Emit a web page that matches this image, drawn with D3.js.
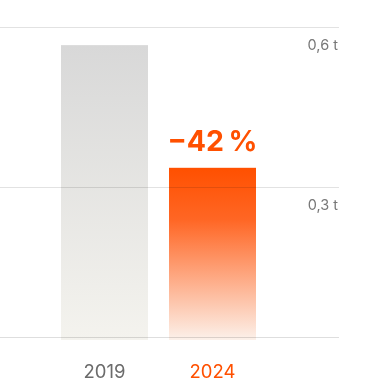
<!DOCTYPE html>
<html>
<head>
<meta charset="utf-8">
<script src="https://cdn.jsdelivr.net/npm/d3@7"></script>
<style>
  body { margin: 0; background: #fff; }
  svg { display: block; font-family: Inter, "Noto Sans", sans-serif; }
</style>
</head>
<body>
<div id="chart"></div>
<script>
const width = 367;
const height = 385;

// data
const years = ["2019", "2024"];
const values = [0.566, 0.336];
const tickValues = [0.3, 0.6];
const tickLabels = ["0,3 t", "0,6 t"];
const changeLabel = "\u221242\u202f%";

const svg = d3.select("#chart")
  .append("svg")
    .attr("width", width)
    .attr("height", height);

let x = d3.scaleBand()
  .domain(years)
  .range([61, 256])
  .paddingInner(21 / 108)
  .paddingOuter(0);

let y = d3.scaleLinear()
  .domain([0, 0.6])
  .range([347, 27]);

const baseY = 337.5;

// gradients
let defs = svg.append("defs");
let gGray = defs.append("linearGradient").attr("id", "gGray")
  .attr("x1", 0).attr("y1", 0).attr("x2", 0).attr("y2", 1);
gGray.append("stop").attr("offset", "0%").attr("stop-color", "#d8d8d8");
gGray.append("stop").attr("offset", "100%").attr("stop-color", "#f4f3ee");
let gOrange = defs.append("linearGradient").attr("id", "gOrange")
  .attr("x1", 0).attr("y1", 0).attr("x2", 0).attr("y2", 1);
gOrange.append("stop").attr("offset", "0%").attr("stop-color", "#ff5000");
gOrange.append("stop").attr("offset", "30%").attr("stop-color", "#ff6624");
gOrange.append("stop").attr("offset", "100%").attr("stop-color", "#fcf1ea");

const fills = ["url(#gGray)", "url(#gOrange)"];
const labelColors = ["#6b6b6b", "#ff5000"];

// bars
svg.selectAll("rect.bar")
  .data(values)
  .enter()
  .append("rect")
    .attr("class", "bar")
    .attr("x", (d, i) => x(years[i]))
    .attr("width", x.bandwidth())
    .attr("y", d => y(d))
    .attr("height", d => baseY + 2.5 - y(d))
    .attr("fill", (d, i) => fills[i]);

// gridlines on top, multiplied so they vanish on the strong orange
let grid = svg.append("g").style("mix-blend-mode", "multiply");
grid.selectAll("line")
  .data(tickValues)
  .enter()
  .append("line")
    .attr("x1", 0)
    .attr("x2", 339)
    .attr("y1", d => Math.round(y(d)) + 0.5)
    .attr("y2", d => Math.round(y(d)) + 0.5)
    .attr("stroke", "#e2e2e2")
    .attr("stroke-width", 1);
grid.append("line")
  .attr("x1", 0).attr("x2", 339)
  .attr("y1", baseY).attr("y2", baseY)
  .attr("stroke", "#dedede")
  .attr("stroke-width", 1);

// tick labels
svg.selectAll("text.tick")
  .data(tickValues)
  .enter()
  .append("text")
    .attr("class", "tick")
    .attr("x", 338)
    .attr("y", d => y(d) + 23)
    .attr("text-anchor", "end")
    .attr("font-size", "14.5px")
    .attr("fill", "#777")
    .text((d, i) => tickLabels[i]);

// year labels
svg.selectAll("text.year")
  .data(years)
  .enter()
  .append("text")
    .attr("class", "year")
    .attr("x", d => x(d) + x.bandwidth() / 2)
    .attr("y", 378)
    .attr("text-anchor", "middle")
    .attr("font-size", "18.5px")
    .attr("fill", (d, i) => labelColors[i])
    .text(d => d);

// change label
svg.append("text")
  .attr("x", x(years[1]) + x.bandwidth() / 2)
  .attr("y", y(values[1]) - 17)
  .attr("text-anchor", "middle")
  .attr("font-size", "28.5px")
  .attr("font-weight", "bold")
  .attr("fill", "#ff5000")
  .text(changeLabel);
</script>
</body>
</html>
